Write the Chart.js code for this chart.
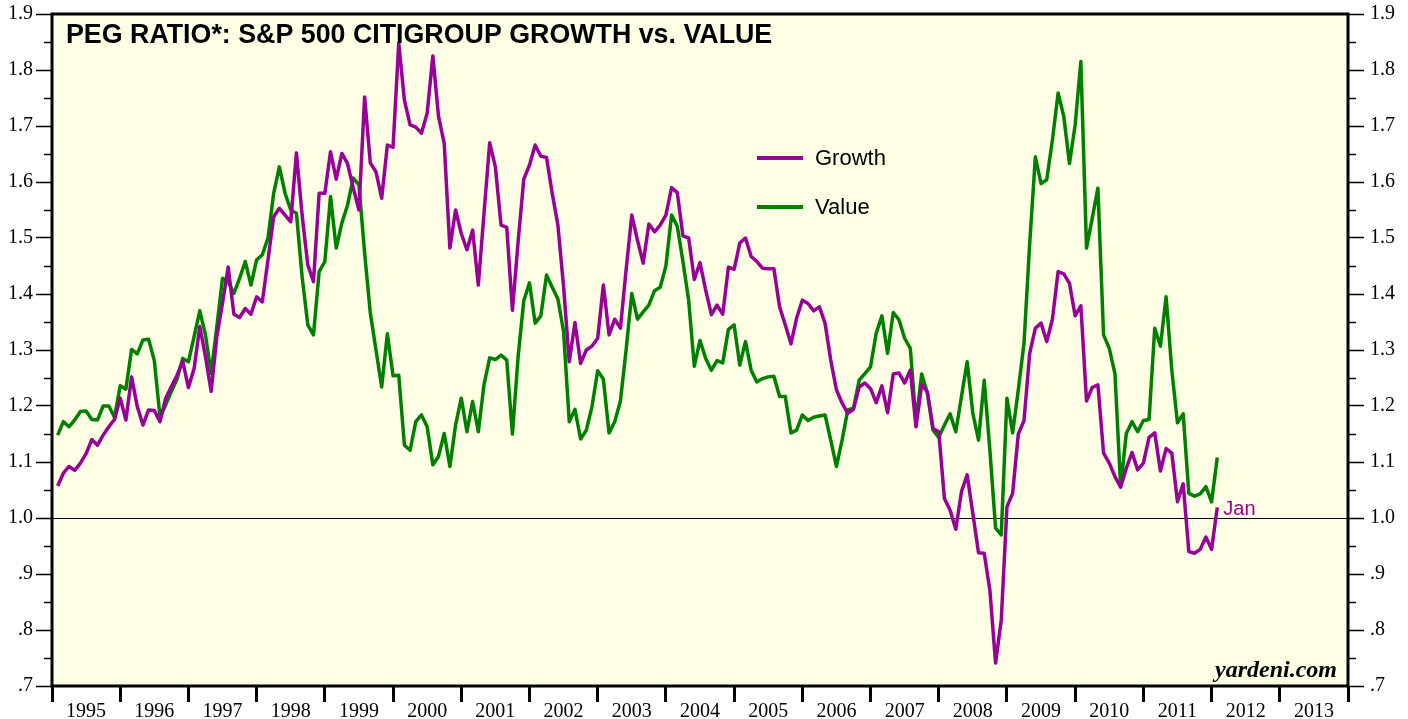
<!DOCTYPE html>
<html>
<head>
<meta charset="utf-8">
<script src="https://cdn.jsdelivr.net/npm/chart.js@4"></script>
<style>
  html, body { margin: 0; padding: 0; background: #fff; }
  #wrap { width: 1408px; height: 719px; }
</style>
</head>
<body>
<div id="wrap"><canvas id="peg" width="1408" height="719"></canvas></div>
<script>
// monthly PEG ratios, Jan 1995 .. Jan 2012
const startYear = 1995;

const growth = [
  1.057, 1.08, 1.092, 1.085, 1.098, 1.115, 1.14, 1.13, 1.148, 1.163, 1.176, 1.214,
  1.175, 1.252, 1.199, 1.166, 1.193, 1.192, 1.172, 1.214, 1.235, 1.255, 1.28, 1.233,
  1.267, 1.342, 1.288, 1.226, 1.324, 1.384, 1.448, 1.364, 1.358, 1.374, 1.364, 1.395,
  1.386, 1.461, 1.538, 1.553, 1.541, 1.529, 1.652, 1.541, 1.452, 1.422, 1.58, 1.58,
  1.654, 1.605, 1.651, 1.633, 1.589, 1.55, 1.752, 1.634, 1.618, 1.571, 1.666, 1.662,
  1.848, 1.746, 1.702, 1.698, 1.687, 1.723, 1.825, 1.717, 1.669, 1.482, 1.55, 1.508,
  1.479, 1.514, 1.416, 1.544, 1.67, 1.627, 1.523, 1.519, 1.371, 1.493, 1.605, 1.63,
  1.666, 1.646, 1.644, 1.58, 1.523, 1.413, 1.279, 1.349, 1.276, 1.3, 1.307, 1.321,
  1.416, 1.327, 1.355, 1.339, 1.443, 1.541, 1.496, 1.455, 1.525, 1.511, 1.523, 1.541,
  1.59, 1.581, 1.504, 1.5, 1.426, 1.456, 1.407, 1.363, 1.38, 1.364, 1.448, 1.444,
  1.491, 1.5, 1.467, 1.458, 1.446, 1.445, 1.445, 1.377, 1.345, 1.311, 1.357, 1.389,
  1.383, 1.37, 1.377, 1.348, 1.282, 1.229, 1.205, 1.187, 1.194, 1.234, 1.241, 1.231,
  1.206, 1.236, 1.188, 1.257, 1.259, 1.241, 1.264, 1.163, 1.238, 1.225, 1.16, 1.154,
  1.035, 1.014, 0.98, 1.047, 1.077, 1.008, 0.938, 0.937, 0.871, 0.741, 0.818, 1.02,
  1.044, 1.15, 1.174, 1.294, 1.339, 1.348, 1.315, 1.355, 1.44, 1.436, 1.419, 1.361,
  1.379, 1.209, 1.233, 1.238, 1.116, 1.098, 1.074, 1.055, 1.089, 1.117, 1.086, 1.098,
  1.144, 1.152, 1.084, 1.124, 1.116, 1.029, 1.061, 0.94, 0.937, 0.944, 0.966, 0.944,
  1.019
];

const value = [
  1.148, 1.172, 1.163, 1.175, 1.19, 1.191, 1.176, 1.175, 1.2, 1.2, 1.18, 1.236,
  1.23, 1.301, 1.293, 1.318, 1.319, 1.281, 1.181, 1.202, 1.226, 1.248, 1.285, 1.279,
  1.324, 1.37, 1.327, 1.258, 1.342, 1.428, 1.422, 1.401, 1.428, 1.458, 1.416, 1.461,
  1.47, 1.5, 1.58, 1.627, 1.58, 1.55, 1.544, 1.431, 1.345, 1.327, 1.44, 1.458,
  1.574, 1.482, 1.527, 1.559, 1.607, 1.595, 1.473, 1.366, 1.3, 1.234, 1.329, 1.254,
  1.255, 1.13, 1.121, 1.172, 1.184, 1.163, 1.095, 1.11, 1.151, 1.092, 1.166, 1.214,
  1.154, 1.208, 1.154, 1.238, 1.286, 1.283, 1.291, 1.282, 1.15, 1.288, 1.388, 1.42,
  1.348, 1.361, 1.434, 1.412, 1.391, 1.333, 1.172, 1.194, 1.141, 1.157, 1.199, 1.263,
  1.248, 1.152, 1.172, 1.209, 1.3, 1.401, 1.355, 1.368, 1.38, 1.406, 1.412, 1.45,
  1.541, 1.521, 1.458, 1.389, 1.271, 1.317, 1.285, 1.264, 1.281, 1.277, 1.337, 1.345,
  1.273, 1.315, 1.264, 1.243, 1.249, 1.252, 1.253, 1.217, 1.217, 1.152, 1.157, 1.184,
  1.174, 1.18, 1.182, 1.184, 1.139, 1.092, 1.139, 1.193, 1.196, 1.246, 1.258, 1.27,
  1.33, 1.361, 1.294, 1.367, 1.354, 1.321, 1.303, 1.172, 1.257, 1.223, 1.157, 1.144,
  1.166, 1.186, 1.154, 1.217, 1.279, 1.187, 1.139, 1.246, 1.121, 0.982, 0.97, 1.214,
  1.152, 1.229, 1.312, 1.49, 1.645, 1.597, 1.604, 1.675, 1.759, 1.717, 1.633, 1.702,
  1.815, 1.482, 1.535, 1.589, 1.327, 1.303, 1.258, 1.056, 1.151, 1.172, 1.154, 1.174,
  1.176, 1.339, 1.307, 1.395, 1.264, 1.17, 1.186, 1.044, 1.039, 1.043, 1.056, 1.029,
  1.108
];

const months = growth.map((_, i) => {
  const y = startYear + Math.floor(i / 12);
  const m = (i % 12) + 1;
  return `${y}-${String(m).padStart(2, "0")}`;
});

const seriesNames = ["Growth", "Value"];
const title = "PEG RATIO*: S&P 500 CITIGROUP GROWTH vs. VALUE";
const lastLabel = "Jan";
const source = "yardeni.com";

const PURPLE = "#990099";
const GREEN = "#008000";
const SERIF = "'Liberation Serif', 'DejaVu Serif', serif";
const SANS = "'Liberation Sans', Arial, sans-serif";

// points sit at month end
function toPoints(vals) {
  return vals.map((v, i) => {
    const [y, m] = months[i].split("-").map(Number);
    return { x: y + m / 12, y: v };
  });
}

function isMajor(v) {
  return Math.abs(v * 10 - Math.round(v * 10)) < 1e-6;
}

function yLabel(v) {
  if (!isMajor(v)) return "";
  return v.toFixed(1).replace(/^0/, "");
}

const decor = {
  id: "decor",
  beforeDraw(chart) {
    const { ctx, chartArea: a } = chart;
    ctx.save();
    ctx.fillStyle = "#ffffe6";
    ctx.fillRect(a.left, a.top, a.right - a.left, a.bottom - a.top);
    ctx.restore();
  },
  afterDraw(chart) {
    const { ctx, chartArea: a } = chart;
    const ys = chart.scales.y;
    ctx.save();

    // minor ticks both sides
    ctx.strokeStyle = "#000";
    ctx.lineWidth = 1.5;
    for (let v = 0.75; v < 1.9; v += 0.1) {
      const py = Math.round(ys.getPixelForValue(v)) + 0.5;
      ctx.beginPath();
      ctx.moveTo(a.left - 8, py);
      ctx.lineTo(a.left, py);
      ctx.moveTo(a.right, py);
      ctx.lineTo(a.right + 8, py);
      ctx.stroke();
    }

    // frame
    ctx.lineWidth = 3;
    ctx.strokeRect(a.left, a.top, a.right - a.left, a.bottom - a.top);

    // title
    ctx.fillStyle = "#000";
    ctx.font = `bold 26.8px ${SANS}`;
    ctx.textBaseline = "alphabetic";
    ctx.fillText(title, a.left + 14, a.top + 29);

    // legend
    const cols = [PURPLE, GREEN];
    ctx.font = `22px ${SANS}`;
    ctx.textBaseline = "middle";
    seriesNames.forEach((n, i) => {
      const ly = a.top + 144 + i * 49;
      ctx.strokeStyle = cols[i];
      ctx.lineWidth = 4;
      ctx.beginPath();
      ctx.moveTo(a.left + 705, ly);
      ctx.lineTo(a.left + 751, ly);
      ctx.stroke();
      ctx.fillStyle = "#000";
      ctx.fillText(n, a.left + 763, ly + 1);
    });

    // last month note
    const meta = chart.getDatasetMeta(0);
    const last = meta.data[meta.data.length - 1];
    ctx.fillStyle = PURPLE;
    ctx.font = `20px ${SANS}`;
    ctx.textBaseline = "alphabetic";
    ctx.fillText(lastLabel, last.x + 6, last.y + 8);

    // source
    ctx.fillStyle = "#000";
    ctx.font = `italic bold 24px ${SERIF}`;
    ctx.textAlign = "right";
    ctx.fillText(source, a.right - 11, a.bottom - 9);

    ctx.restore();
  }
};

const yTicks = {
  stepSize: 0.05,
  autoSkip: false,
  color: "#000",
  font: { family: SERIF, size: 20 },
  callback: yLabel
};

function fitY(width) {
  return (s) => {
    s.width = width;
    s.paddingTop = 0;
    s.paddingBottom = 0;
  };
}

new Chart(document.getElementById("peg"), {
  type: "line",
  data: {
    datasets: [
      {
        label: seriesNames[0],
        data: toPoints(growth),
        borderColor: PURPLE,
        borderWidth: 3.5,
        borderJoinStyle: "round",
        pointRadius: 0,
        tension: 0,
        fill: false
      },
      {
        label: seriesNames[1],
        data: toPoints(value),
        borderColor: GREEN,
        borderWidth: 3.5,
        borderJoinStyle: "round",
        pointRadius: 0,
        tension: 0,
        fill: false
      }
    ]
  },
  options: {
    responsive: false,
    animation: false,
    layout: { padding: { top: 14, left: 0, right: 0, bottom: 0 } },
    plugins: {
      legend: { display: false },
      tooltip: { enabled: false },
      title: { display: false }
    },
    scales: {
      x: {
        type: "linear",
        min: 1995,
        max: 2014,
        border: { display: false },
        afterFit: (s) => { s.height = 33; },
        grid: {
          drawOnChartArea: false,
          tickLength: 16,
          tickWidth: 3,
          tickColor: (c) => (Number.isInteger(c.tick.value) ? "#000" : "rgba(0,0,0,0)")
        },
        ticks: {
          stepSize: 0.5,
          autoSkip: false,
          maxRotation: 0,
          padding: -2,
          color: "#000",
          font: { family: SERIF, size: 20 },
          callback: (v) => (Number.isInteger(v) ? "" : String(Math.floor(v)))
        }
      },
      y: {
        position: "left",
        min: 0.7,
        max: 1.9,
        border: { display: false },
        afterFit: fitY(52),
        grid: {
          drawOnChartArea: true,
          lineWidth: 1,
          color: (c) => (Math.abs(c.tick.value - 1) < 1e-6 ? "#000" : "rgba(0,0,0,0)"),
          tickLength: 16,
          tickWidth: 1.5,
          tickColor: (c) => (isMajor(c.tick.value) ? "#000" : "rgba(0,0,0,0)")
        },
        ticks: { ...yTicks, padding: 3 }
      },
      y2: {
        position: "right",
        min: 0.7,
        max: 1.9,
        border: { display: false },
        afterFit: fitY(60),
        grid: {
          drawOnChartArea: false,
          tickLength: 16,
          tickWidth: 1.5,
          tickColor: (c) => (isMajor(c.tick.value) ? "#000" : "rgba(0,0,0,0)")
        },
        ticks: { ...yTicks, padding: 6 }
      }
    }
  },
  plugins: [decor]
});
</script>
</body>
</html>
